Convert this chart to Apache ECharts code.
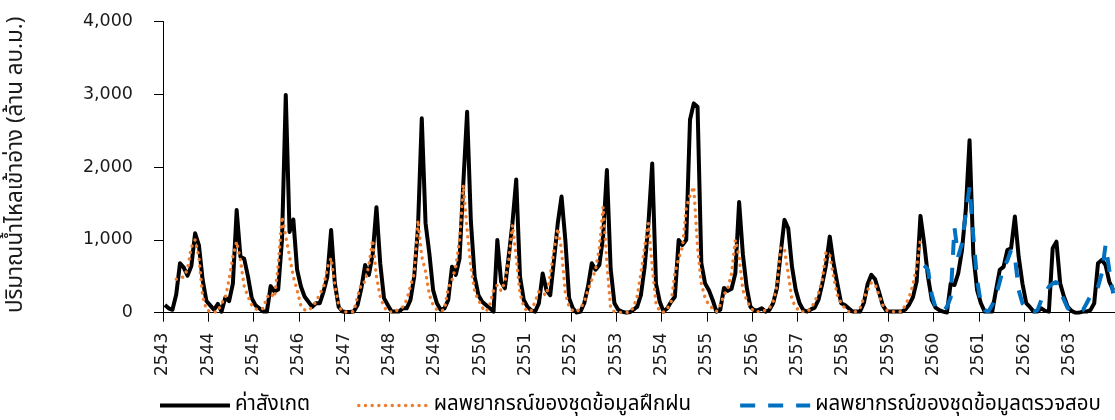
<!DOCTYPE html>
<html>
<head>
<meta charset="utf-8">
<script src="https://cdn.jsdelivr.net/npm/echarts@6/dist/echarts.min.js"></script>
<style>
  html, body { margin: 0; padding: 0; background: #ffffff; }
  #chart { width: 1115px; height: 420px; }
</style>
</head>
<body>
<div id="chart"></div>
<script>
// Year labels (Thai Buddhist era), one tick per 12 months
const yearLabels = ['2543','2544','2545','2546','2547','2548','2549','2550','2551','2552','2553','2554','2555','2556','2557','2558','2559','2560','2561','2562','2563'];

// Observed monthly inflow (million m3), month index 0..251
const observed = [
  105, 60, 40, 250, 680, 620, 510, 640, 1090, 930, 450, 160,
  100, 40, 120, 15, 210, 160, 400, 1410, 770, 740, 495, 200,
  100, 60, 15, 15, 365, 290, 320, 1000, 2990, 1110, 1280, 590,
  360, 220, 150, 80, 130, 130, 290, 495, 1135, 400, 80, 15,
  10, 10, 15, 105, 335, 655, 520, 800, 1450, 680, 200, 105,
  15, 15, 15, 60, 60, 175, 495, 1180, 2670, 1230, 815, 310,
  130, 40, 60, 175, 630, 520, 745, 1780, 2760, 1250, 495, 240,
  150, 105, 60, 15, 1000, 425, 335, 770, 1230, 1830, 495, 175,
  80, 30, 15, 130, 540, 310, 240, 725, 1230, 1595, 1000, 200,
  60, 0, 15, 130, 360, 680, 590, 655, 1045, 1960, 600, 130,
  40, 15, 0, 5, 40, 80, 240, 630, 1230, 2050, 400, 150,
  15, 60, 150, 220, 1000, 930, 1000, 2650, 2875, 2830, 680, 400,
  310, 175, 15, 40, 340, 300, 330, 540, 1520, 800, 350, 80,
  35, 35, 60, 15, 35, 130, 335, 815, 1275, 1160, 630, 310,
  130, 35, 15, 45, 70, 175, 395, 655, 1045, 680, 400, 130,
  105, 60, 15, 15, 15, 130, 390, 520, 460, 290, 105, 25,
  15, 15, 15, 15, 45, 110, 210, 430, 1330, 950, 495, 175,
  70, 35, 15, 0, 400, 380, 540, 860, 1410, 2370, 800, 310,
  130, 15, 15, 15, 310, 590, 630, 860, 885, 1320, 770, 400,
  130, 75, 15, 15, 60, 25, 15, 885, 975, 400, 220, 80,
  25, 0, 0, 15, 15, 35, 130, 680, 725, 655, 425, 310
];

// Forecast on the training set: starts at month index 3, ends at 200
const trainStart = 3;
const trainForecast = [
  460, 480, 490, 600, 900, 1000, 770, 220, 40,
  15, 10, 15, 130, 200, 460, 770, 975, 720, 360, 220, 105,
  50, 40, 60, 210, 265, 210, 655, 1320, 1045, 770, 495, 310,
  95, 40, 30, 80, 150, 260, 350, 620, 750, 380, 100, 15,
  10, 10, 15, 220, 400, 425, 655, 1000, 495, 220, 80, 15,
  10, 15, 60, 80, 175, 360, 540, 1270, 770, 565, 245, 105,
  40, 25, 40, 335, 450, 630, 1000, 1755, 1140, 630, 290, 175,
  70, 15, 105, 310, 380, 300, 425, 725, 1205, 770, 265, 80,
  15, 30, 150, 290, 265, 240, 515, 860, 1160, 860, 265, 80,
  25, 15, 60, 150, 310, 450, 590, 885, 1455, 680, 60, 15,
  5, 5, 5, 5, 70, 220, 540, 905, 1230, 630, 130, 15,
  10, 60, 150, 540, 745, 905, 1435, 1615, 1730, 905, 400, 200,
  105, 60, 15, 105, 245, 335, 540, 1000, 770, 310, 175, 70,
  15, 15, 15, 35, 60, 150, 360, 900, 870, 540, 175, 80,
  15, 15, 15, 60, 150, 265, 450, 830, 800, 495, 245, 130,
  60, 15, 15, 15, 60, 200, 310, 410, 395, 245, 105, 35,
  15, 15, 15, 15, 105, 210, 380, 630, 1000
];

// Forecast on the test set: starts at month index 201
const testStart = 201;
const testForecast = [
  650, 590, 250, 70, 35, 15, 80, 210, 1170, 770, 950, 1365, 1730, 1045, 450,
  130, 35, 15, 105, 240, 425, 630, 715, 860, 770, 310, 130, 60, 15, 15, 35,
  175, 265, 355, 400, 425, 290, 175, 60, 25, 15, 15, 35, 130, 230, 265, 355,
  540, 930, 585, 265
];

const seriesNames = ['ค่าสังเกต', 'ผลพยากรณ์ของชุดข้อมูลฝึกฝน', 'ผลพยากรณ์ของชุดข้อมูลตรวจสอบ'];
const yAxisTitle = 'ปริมาณน้ำไหลเข้าอ่าง (ล้าน ลบ.ม.)';

// Each month is drawn at the middle of its month slot
const toPoints = (arr, start) => arr.map((v, k) => [start + k + 0.5, v]);

const FONT = '"Noto Sans Thai", "Noto Sans", "DejaVu Sans", sans-serif';
const NUMFONT = '"DejaVu Sans", "Noto Sans", sans-serif';
const styles = [
  { color: '#000000', width: 4, type: 'solid', cap: 'butt' },
  { color: '#ED7D31', width: 3.4, type: [0.1, 6.6], cap: 'round' },
  { color: '#0070C0', width: 4, type: [15, 13], cap: 'butt' }
];

const chart = echarts.init(document.getElementById('chart'), null, { renderer: 'canvas' });

chart.setOption({
  animation: false,
  backgroundColor: '#ffffff',
  textStyle: { fontFamily: FONT, color: '#000000' },
  grid: { left: 163, top: 21.5, width: 953, height: 291.2, containLabel: false },
  graphic: [{
    type: 'text', x: 17, y: 313, rotation: Math.PI / 2,
    style: {
      text: yAxisTitle, fill: '#1a1a1a',
      fontSize: 22.3, fontFamily: FONT, align: 'left', verticalAlign: 'middle'
    }
  }],
  legend: {
    left: 158, top: 395, padding: 0,
    itemWidth: 70, itemHeight: 14, itemGap: 47,
    textStyle: { fontFamily: FONT, fontSize: 20.5, color: '#000000' },
    itemStyle: { opacity: 0 },
    data: seriesNames.map((n, k) => ({ name: n, lineStyle: styles[k], itemStyle: { opacity: 0 } }))
  },
  xAxis: {
    type: 'value', min: 0, max: 252, interval: 12,
    axisLine: { show: true, lineStyle: { color: '#000000', width: 1 } },
    axisTick: { show: true, length: 9, lineStyle: { color: '#000000' } },
    splitLine: { show: false },
    axisLabel: {
      rotate: 90, margin: 20, fontSize: 17, color: '#1a1a1a', fontFamily: NUMFONT,
      formatter: v => (v / 12 < yearLabels.length ? yearLabels[v / 12] : '')
    }
  },
  yAxis: {
    type: 'value', min: 0, max: 4000, interval: 1000,
    axisLine: { show: true, lineStyle: { color: '#000000', width: 1 } },
    axisTick: { show: true, length: 9, lineStyle: { color: '#000000' } },
    splitLine: { show: false },
    axisLabel: {
      margin: 30, fontSize: 17.5, color: '#1a1a1a', fontFamily: NUMFONT,
      formatter: v => v.toLocaleString('en-US')
    }
  },
  series: [
    {
      name: seriesNames[0], type: 'line', data: toPoints(observed, 0),
      showSymbol: false, symbol: 'none', z: 3,
      lineStyle: Object.assign({ join: 'round' }, styles[0]),
      itemStyle: { color: styles[0].color }
    },
    {
      name: seriesNames[1], type: 'line', data: toPoints(trainForecast, trainStart),
      showSymbol: false, symbol: 'none', z: 4,
      lineStyle: styles[1],
      itemStyle: { color: styles[1].color }
    },
    {
      name: seriesNames[2], type: 'line', data: toPoints(testForecast, testStart),
      showSymbol: false, symbol: 'none', z: 4,
      lineStyle: styles[2],
      itemStyle: { color: styles[2].color }
    }
  ]
});
</script>
</body>
</html>
